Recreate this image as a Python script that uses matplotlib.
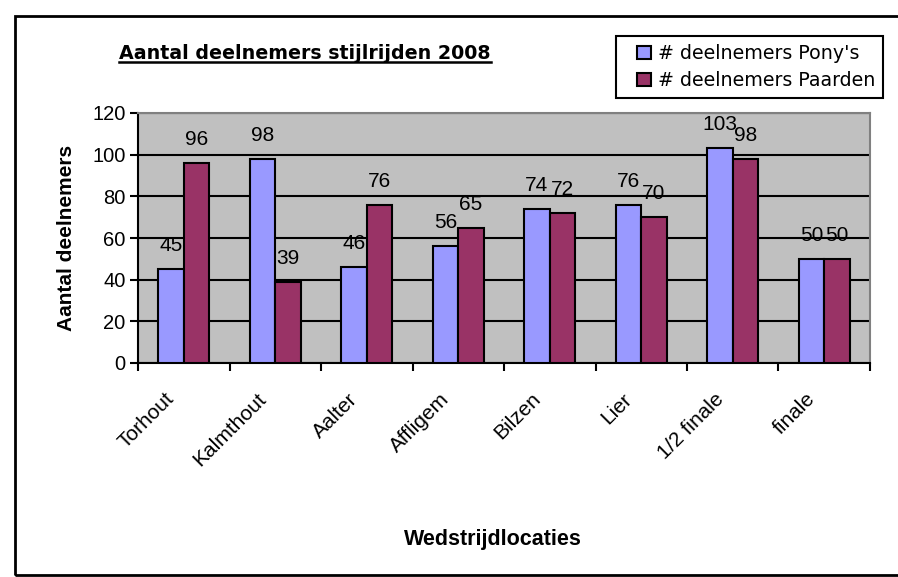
import matplotlib.pyplot as plt
import matplotlib.patches as mpatches
import matplotlib.transforms as mtrans
from matplotlib.legend_handler import HandlerPatch
from matplotlib.lines import Line2D
import numpy as np

# data
locaties = ['Torhout', 'Kalmthout', 'Aalter', 'Affligem', 'Bilzen', 'Lier', '1/2 finale', 'finale']
ponys = [45, 98, 46, 56, 74, 76, 103, 50]
paarden = [96, 39, 76, 65, 72, 70, 98, 50]
series_names = ["# deelnemers Pony's", '# deelnemers Paarden']

W, H = 898, 577
fig = plt.figure(figsize=(W / 100, H / 100), dpi=100)
ax = fig.add_axes([138 / W, 1 - 363 / H, (870 - 138) / W, (363 - 113) / H])

x = np.arange(len(locaties))
bw = 0.28
b1 = ax.bar(x - bw / 2, ponys, bw, color='#9999FF', edgecolor='black', linewidth=1.5, zorder=3)
b2 = ax.bar(x + bw / 2, paarden, bw, color='#993366', edgecolor='black', linewidth=1.5, zorder=3)

for bars, vals in [(b1, ponys), (b2, paarden)]:
    for r, v in zip(bars, vals):
        ax.annotate(str(v), (r.get_x() + r.get_width() / 2, v), xytext=(0, 13),
                    textcoords='offset points', ha='center', va='baseline',
                    fontsize=15, family='Liberation Sans')

ax.set_facecolor('#C0C0C0')
ax.set_xlim(-0.5, len(locaties) - 0.5)
ax.set_ylim(0, 120)
ax.set_yticks(range(0, 121, 20))
ax.yaxis.grid(True, color='black', linewidth=1.5, zorder=1)
ax.set_axisbelow(True)

ax.set_xticks(x)
ax.set_xticklabels(locaties, rotation=45, ha='right', va='top', rotation_mode='anchor',
                   fontsize=15, family='Liberation Sans')
ax.tick_params(axis='x', length=0, pad=19)
shift = mtrans.ScaledTranslation(-19 / 100, 0, fig.dpi_scale_trans)
for lb in ax.get_xticklabels():
    lb.set_transform(lb.get_transform() + shift)
ax.set_xticks(np.arange(-0.5, len(locaties)), minor=True)
ax.tick_params(axis='x', which='minor', length=6, width=1.5, direction='out')
ax.tick_params(axis='y', length=6, width=1.5, direction='out', labelsize=14.5, pad=3)
for lb in ax.get_yticklabels():
    lb.set_family('Liberation Sans')

for s in ['top', 'right']:
    ax.spines[s].set_color('#808080')
    ax.spines[s].set_linewidth(1.5)
for s in ['left', 'bottom']:
    ax.spines[s].set_color('black')
    ax.spines[s].set_linewidth(1.5)

fig.text(67 / W, 1 - 238 / H, 'Aantal deelnemers', rotation=90, ha='center', va='center',
         fontsize=15, fontweight='bold', family='Liberation Sans')
fig.text(493 / W, 1 - 540 / H, 'Wedstrijdlocaties', ha='center', va='center',
         fontsize=15.5, fontweight='bold', family='Liberation Sans')

title = fig.text(305 / W, 1 - 59 / H, 'Aantal deelnemers stijlrijden 2008', ha='center',
                 va='baseline', fontsize=13.7, fontweight='bold', family='DejaVu Sans')

# outer frame
fig.patches.append(mpatches.Rectangle((15 / W, 2 / H), 1.0, 1 - 18 / H, transform=fig.transFigure,
                                      fill=False, edgecolor='black', linewidth=2))


# legend square sits at the right end of the handle box
def square_right(legend, orig_handle, xdescent, ydescent, width, height, fontsize):
    return mpatches.Rectangle((width - height - xdescent, -ydescent), height, height)


h1, h2 = b1.patches[0], b2.patches[0]
hm = {h1: HandlerPatch(patch_func=square_right), h2: HandlerPatch(patch_func=square_right)}
leg = fig.legend([h1, h2], series_names, handler_map=hm, loc='upper left',
                 bbox_to_anchor=(616 / W, 1 - 36 / H),
                 frameon=True, fancybox=False, edgecolor='black', framealpha=1,
                 handlelength=1.42, handleheight=0.72, handletextpad=0.37,
                 labelspacing=0.42, borderpad=0.42, borderaxespad=0,
                 prop={'family': 'DejaVu Sans', 'size': 13.7})
leg.get_frame().set_linewidth(1.5)

# underline for title
fig.canvas.draw()
bb = title.get_window_extent(fig.canvas.get_renderer())
fig.lines.append(Line2D([bb.x0 / W, bb.x1 / W], [(bb.y0 + 1) / H, (bb.y0 + 1) / H],
                        transform=fig.transFigure, color='black', linewidth=1.8))

fig.savefig('out.png', dpi=100)
